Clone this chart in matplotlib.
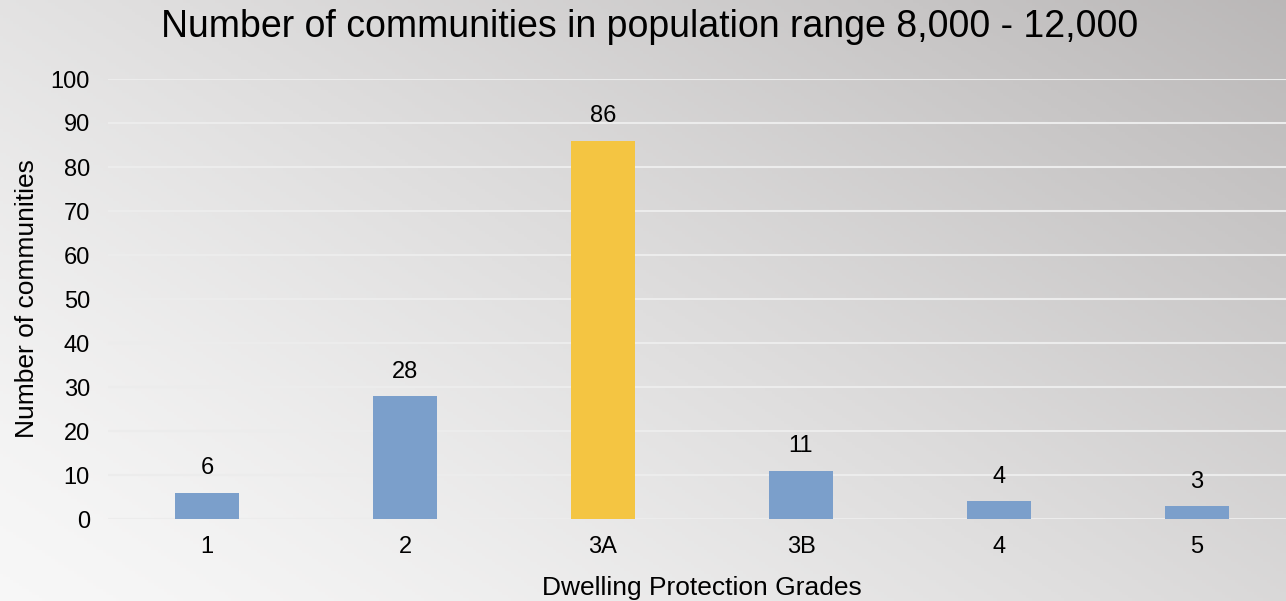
import matplotlib as mpl
import matplotlib.pyplot as plt
import numpy as np

mpl.rcParams.update({
    'font.family': ['Liberation Sans', 'DejaVu Sans'],
})

# Data
grades = ['1', '2', '3A', '3B', '4', '5']
counts = [6, 28, 86, 11, 4, 3]
highlight = '3A'

blue = '#7b9fcb'
yellow = '#f4c542'
colors = [yellow if g == highlight else blue for g in grades]

f = plt.figure(figsize=(12.86, 6.01), dpi=100)

# Diagonal grey gradient background
bg_ax = f.add_axes([0, 0, 1, 1], zorder=-10)
xx, yy = np.meshgrid(np.linspace(0, 1, 400), np.linspace(0, 1, 200))
t = np.clip((xx * 1.15 + yy * 0.85) / 2.0, 0, 1) ** 1.3
light = np.array([0.97, 0.97, 0.97])
dark = np.array([0.73, 0.72, 0.72])
img = light[None, None, :] * (1 - t[..., None]) + dark[None, None, :] * t[..., None]
bg_ax.imshow(img, origin='lower', extent=[0, 1, 0, 1], aspect='auto')
bg_ax.axis('off')

ax = f.add_axes([108 / 1286, 82 / 601, 1188 / 1286, 440 / 601])
ax.patch.set_alpha(0)
x = np.arange(len(grades))
bars = ax.bar(x, counts, width=0.32, color=colors, zorder=3)
for xi, c in zip(x, counts):
    ax.text(xi, c + 5.5, str(c), ha='center', va='center', fontsize=17)

ax.set_xlim(-0.5, len(grades) - 0.5)
ax.set_ylim(0, 100)
ax.set_yticks(np.arange(0, 101, 10))
ax.set_xticks(x)
ax.set_xticklabels(grades)
ax.grid(axis='y', color='#ececec', linewidth=1.5, zorder=0)
ax.set_axisbelow(True)
ax.tick_params(length=0, labelsize=17)
ax.tick_params(axis='x', pad=12)
ax.tick_params(axis='y', pad=13)
for s in ax.spines.values():
    s.set_visible(False)
ax.set_xlabel('Dwelling Protection Grades', fontsize=19, labelpad=13)
ax.set_ylabel('Number of communities', fontsize=19, labelpad=8)

f.text(650 / 1286, 1 - 27 / 601, 'Number of communities in population range 8,000 - 12,000',
       ha='center', va='center', fontsize=27)

f.savefig('out.png')
